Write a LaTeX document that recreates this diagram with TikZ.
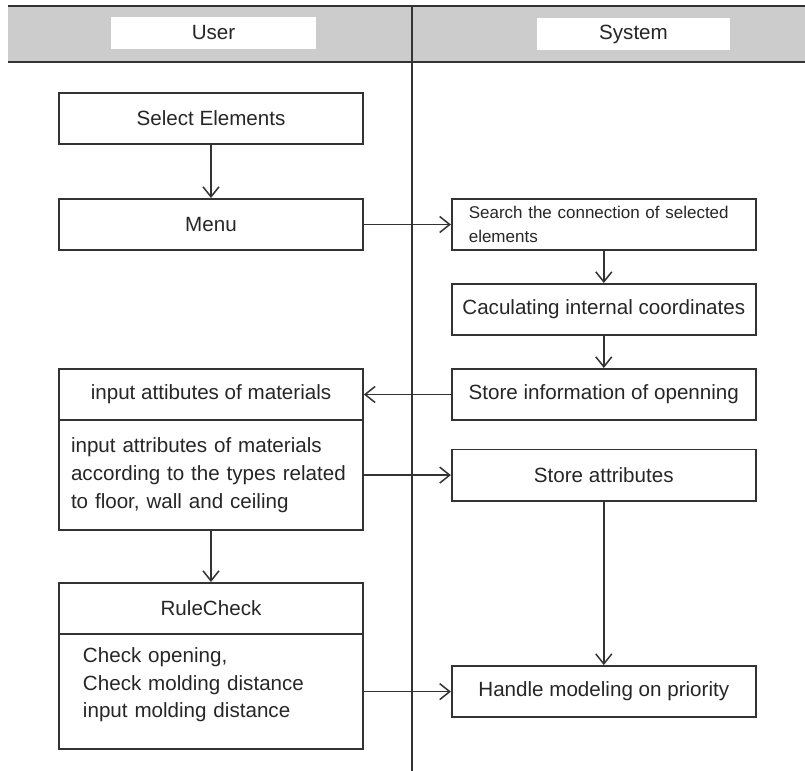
\documentclass[tikz,border=0pt]{standalone}
\usepackage{fontspec}
\setmainfont{Liberation Sans}
\usetikzlibrary{arrows.meta, positioning}

\begin{document}
\begin{tikzpicture}[x=0.5pt, y=-0.5pt, font=\fontsize{10.3}{13.9}\selectfont,
    >={Straight Barb[length=5pt,width=8pt]},
    box/.style={draw=black!80, line width=0.9pt, text=black!85, minimum width=152pt, minimum height=25.6pt, inner sep=2pt, align=center},
    bodybox/.style={box, align=left, minimum height=#1},
    lane/.style={fill=white, text=black!85, minimum height=16pt, inner sep=0pt},
    flow/.style={->, draw=black!80, line width=0.75pt}]
    \useasboundingbox (0,0) rectangle (805,771);
    \fill[black!20] (8,6) rectangle (805,62);
    \draw[black!80, line width=1.2pt] (8,6) -- (805,6);
    \draw[black!80, line width=1.4pt] (8,62) -- (805,62);
    \draw[black!80, line width=0.8pt] (412,6) -- (412,771);
    \node[lane, minimum width=102.5pt] (user) at (213.5,33) {User};
    \node[lane, minimum width=96.5pt] (system) at (633.5,34) {System};

    \node[box] (sel) at (211,118.5) {Select Elements};
    \node[box, below=26.5pt of sel] (menu) {Menu};
    \node[box, right=43.5pt of menu, align=left, text width=135pt, inner xsep=8.5pt,
        font=\fontsize{8.5}{12}\selectfont] (search) {Search the connection of selected\\elements};
    \node[box, below=16pt of search] (calc) {Caculating internal coordinates};
    \node[box, below=16pt of calc] (info) {Store information of openning};
    \node[box, left=43.5pt of info] (iahead) {input attibutes of materials};
    \node[bodybox=55pt, below=-0.9pt of iahead, text width=140pt, inner xsep=6pt] (iabody)
        {input attributes of materials\\according to the types related\\to floor, wall and ceiling};
    \node[box, right=43.5pt of iabody] (attr) {Store attributes};
    \node[box, below=25.5pt of iabody] (rchead) {RuleCheck};
    \node[bodybox=57.5pt, below=-0.9pt of rchead, text width=128pt, inner xsep=12pt] (rcbody)
        {Check opening,\\Check molding distance\\input molding distance\rule[-9pt]{0pt}{9pt}};
    \node[box, right=43.5pt of rcbody] (handle) {Handle modeling on priority};

    \draw[flow] (sel) -- (menu);
    \draw[flow] (menu) -- (search);
    \draw[flow] (search) -- (calc);
    \draw[flow] (calc) -- (info);
    \draw[flow] (info) -- (iahead);
    \draw[flow] (iabody) -- (attr);
    \draw[flow] (iabody) -- (rchead);
    \draw[flow] (attr) -- (handle);
    \draw[flow] (rcbody) -- (handle);
\end{tikzpicture}
\end{document}
